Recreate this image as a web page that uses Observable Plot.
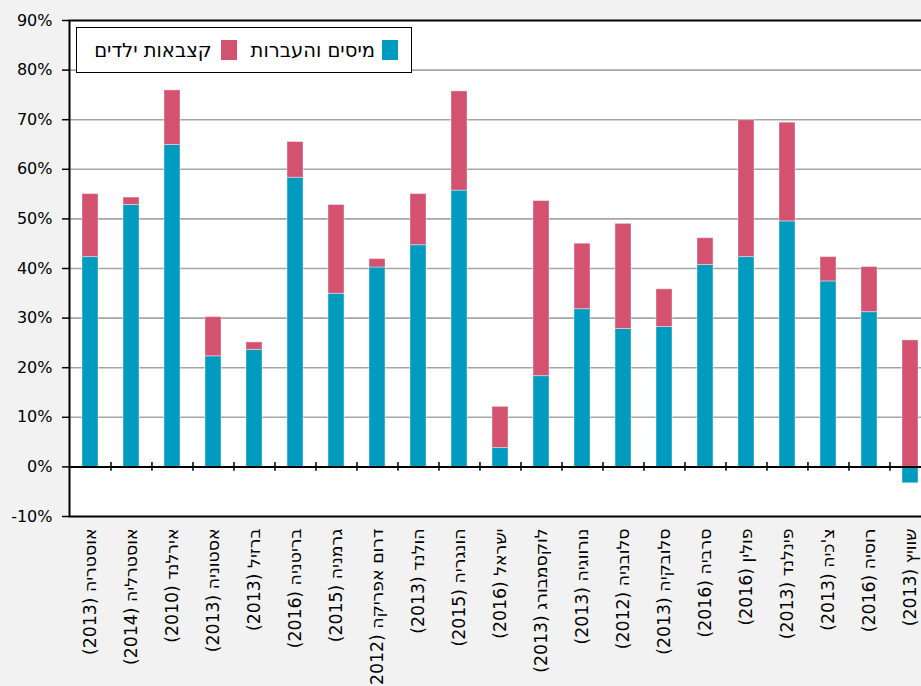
<!DOCTYPE html>
<html><head><meta charset="utf-8">
<script src="https://cdn.jsdelivr.net/npm/d3@7"></script>
<script src="https://cdn.jsdelivr.net/npm/@observablehq/plot@0.6"></script>
<style>
html,body{margin:0;padding:0;background:#f2f2f2;overflow:hidden;width:921px;height:686px}
#wrap{position:relative;width:921px;height:686px;overflow:hidden}
#wrap svg{position:absolute;left:0;top:0}
#legend{position:absolute;left:76px;top:27px;width:334px;height:44px;border:1px solid #000;background:#fff;direction:rtl;font-family:"DejaVu Sans";font-size:19.5px;display:flex;align-items:center;box-sizing:content-box}
#legend .sw{display:inline-block;width:16px;height:20px}
#legend .it{display:flex;align-items:center}
</style>
</head><body>
<div id="wrap"><div id="legend"></div></div>
<script>
const countries = ["אוסטריה (2013)","אוסטרליה (2014)","אירלנד (2010)","אסטוניה (2013)","ברזיל (2013)","בריטניה (2016)","גרמניה (2015)","דרום אפריקה (2012)","הולנד (2013)","הונגריה (2015)","ישראל (2016)","לוקסמבורג (2013)","נורווגיה (2013)","סלובניה (2012)","סלובקיה (2013)","סרביה (2016)","פולין (2016)","פינלנד (2013)","צ'כיה (2013)","רוסיה (2016)","שוויץ (2013)"];
const seriesNames = ["מיסים והעברות","קצבאות ילדים"];
const seriesColors = ["#009bbf","#d2526f"];
// taxes & transfers (bottom segment)
const taxes = [42.3,52.8,64.9,22.3,23.6,58.3,34.9,40.2,44.7,55.7,3.8,18.3,31.8,27.8,28.2,40.7,42.3,49.5,37.4,31.2,-3.3];
// child allowances (top segment)
const child = [12.7,1.5,11.0,7.9,1.5,7.2,17.9,1.7,10.3,20.0,8.3,35.3,13.2,21.2,7.6,5.4,27.6,19.9,4.9,9.1,25.5];
const yTicks = [-10,0,10,20,30,40,50,60,70,80,90];
const gridTicks = [10,20,30,40,50,60,70,80];

const rows = [];
countries.forEach((c,i)=>{
  rows.push({country:c, series:seriesNames[0], value:taxes[i]});
  rows.push({country:c, series:seriesNames[1], value:child[i]});
});

const RLE = "\u202B", PDF = "\u202C";
const W = 932, H = 686, VW = 921;
const step = (W - 69 - 1) / countries.length;

const chart = Plot.plot({
  width: W, height: H,
  marginLeft: 69, marginRight: 1, marginTop: 20, marginBottom: 170,
  style: {background: "transparent", fontFamily: "DejaVu Sans", fontSize: "16px", color: "#000"},
  x: {domain: countries, paddingInner: 0.6, paddingOuter: 0.3, label: null},
  y: {domain: [-10, 90], label: null},
  color: {domain: seriesNames, range: seriesColors},
  marks: [
    Plot.frame({fill: "white", stroke: null}),
    Plot.ruleY(gridTicks, {stroke: "#a6a6a6", strokeWidth: 1.6}),
    Plot.barY(rows, Plot.stackY({order: seriesNames, x: "country", y: "value", fill: "series", stroke: "#ffffff", strokeOpacity: 0.4, strokeWidth: 1, inset: 0})),
    Plot.ruleY([0], {stroke: "#000", strokeWidth: 2}),
    Plot.ruleX(countries.slice(1), {x: d => d, y1: -0.9, y2: 0.9, dx: -step/2, stroke: "#000", strokeWidth: 1.5}),
    Plot.frame({stroke: "#000", strokeWidth: 2}),
    Plot.axisY({ticks: yTicks, tickFormat: d => d + "%", tickSize: 7, tickPadding: 10, fontSize: 16, stroke: "#000", strokeWidth: 1.5}),
    Plot.axisX({anchor: "bottom", tickSize: 0, tickPadding: 12, tickRotate: -90, fontSize: 17.3, tickFormat: d => RLE + d + PDF})
  ]
});
// clip the drawing to the 921px window (the chart runs past the right edge)
chart.setAttribute("width", VW);
chart.setAttribute("viewBox", `0 0 ${VW} ${H}`);
chart.style.overflow = "hidden";
document.getElementById("wrap").prepend(chart);

// legend
const leg = document.getElementById("legend");
seriesNames.forEach((s,i)=>{
  const it = document.createElement("span");
  it.className = "it";
  it.style.marginRight = (i===0 ? 13 : 14) + "px";
  const sw = document.createElement("span");
  sw.className = "sw";
  sw.style.background = seriesColors[i];
  const tx = document.createElement("span");
  tx.textContent = s;
  tx.style.marginRight = (i===0 ? 7 : 9) + "px";
  it.appendChild(sw); it.appendChild(tx);
  leg.appendChild(it);
});
</script>
</body></html>
